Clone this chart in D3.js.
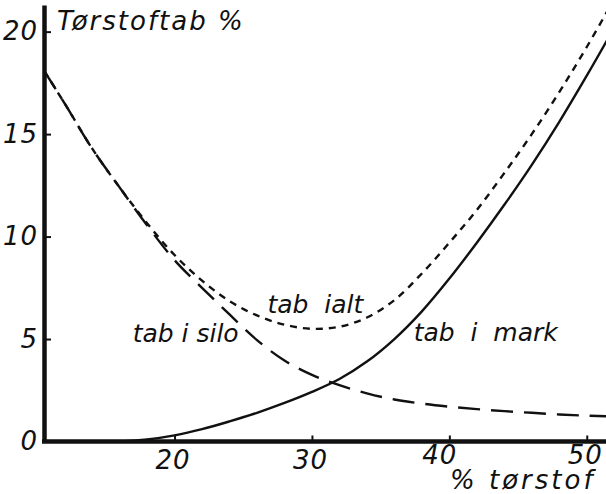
<!DOCTYPE html>
<html>
<head>
<meta charset="utf-8">
<script src="https://cdn.jsdelivr.net/npm/d3@7"></script>
<style>
  html, body { margin: 0; padding: 0; background: #fff; }
  svg { display: block; }
  text { font-family: "DejaVu Sans", sans-serif; font-style: oblique; fill: #111; }
</style>
</head>
<body>
<svg id="chart" width="606" height="494"></svg>
<script>
// Dry matter content (% tørstof) at which each loss was read
const torstof = [10.5, 12, 14, 16, 18, 20, 22, 24, 26, 28, 30, 32, 34, 36, 38, 40, 42, 44, 46, 48, 50, 52];

// Loss in the silo (long dashes)
const tabSilo = [18.1, 16.5, 14.3, 12.4, 10.55, 8.85, 7.5, 6.2, 4.95, 3.95, 3.25, 2.75, 2.35, 2.05, 1.85, 1.7, 1.58, 1.48, 1.4, 1.32, 1.26, 1.22];

// Loss in the field (solid line)
const tabMark = [0, 0, 0, 0, 0.1, 0.3, 0.6, 0.98, 1.4, 1.88, 2.42, 3.05, 3.9, 5.0, 6.35, 7.95, 9.7, 11.55, 13.5, 15.6, 17.85, 20.2];

// Total loss (short dashes)
const tabIalt = [18.1, 16.5, 14.3, 12.4, 10.65, 9.1, 7.85, 6.85, 6.15, 5.7, 5.5, 5.6, 6.05, 6.9, 8.2, 9.7, 11.3, 13.1, 15.0, 17.05, 19.25, 21.6];

const xTicks = [20, 30, 40, 50];
const yTicks = [0, 5, 10, 15, 20];

const yTitle = "Tørstoftab %";
const xTitle = "% tørstof";
const seriesNames = ["tab i silo", "tab  ialt", "tab  i  mark"];

const svg = d3.select("#chart");
const W = 606, H = 494;

const x = d3.scaleLinear().domain([10.5, 51.4]).range([44, 606]);
const y = d3.scaleLinear().domain([0, 21.3]).range([441.5, 5]);

svg.append("rect").attr("width", W).attr("height", H).attr("fill", "#fff");

svg.append("defs").append("clipPath").attr("id", "plot")
  .append("rect").attr("x", 44).attr("y", 0).attr("width", W - 44).attr("height", 442);

const line = vals => d3.line()
  .x((d, i) => x(torstof[i]))
  .y(d => y(d))
  .curve(d3.curveCatmullRom.alpha(0.5))(vals);

const curves = svg.append("g").attr("clip-path", "url(#plot)")
  .attr("fill", "none").attr("stroke", "#111").attr("stroke-width", 2.4);

curves.append("path").attr("d", line(tabSilo)).attr("stroke-dasharray", "22 11");
curves.append("path").attr("d", line(tabIalt)).attr("stroke-dasharray", "7 6");
curves.append("path").attr("d", line(tabMark));

// Axes: heavy axis lines, short inward ticks
const fontSize = 26;

const gx = svg.append("g").attr("transform", `translate(0,${y(0)})`)
  .call(d3.axisBottom(x).tickValues(xTicks).tickSizeInner(-6).tickSizeOuter(0).tickPadding(9));
gx.select(".domain").attr("stroke", "#111").attr("stroke-width", 4.5)
  .attr("d", `M${x.range()[0] - 2},0H${x.range()[1]}`);
gx.selectAll(".tick line").attr("stroke", "#111").attr("stroke-width", 2);
gx.selectAll(".tick text").attr("font-size", fontSize).attr("font-family", null)
  .style("letter-spacing", "1px")
  .attr("dx", d => d === 40 ? -10 : -2)
  .attr("dy", d => d >= 40 ? "0.5em" : "0.71em");

const gy = svg.append("g").attr("transform", `translate(${x.range()[0]},0)`)
  .call(d3.axisLeft(y).tickValues(yTicks).tickSizeInner(-7).tickSizeOuter(0).tickPadding(6));
gy.select(".domain").attr("stroke", "#111").attr("stroke-width", 4.5);
gy.selectAll(".tick line").attr("stroke", "#111").attr("stroke-width", 2);
gy.selectAll(".tick text").attr("font-size", fontSize).attr("font-family", null)
  .style("letter-spacing", "1px");

// Titles
svg.append("text").attr("x", 57).attr("y", 30)
  .attr("font-size", fontSize).style("letter-spacing", "2px").text(yTitle);

svg.append("text").attr("x", 450).attr("y", 489)
  .attr("font-size", fontSize).style("letter-spacing", "3px")
  .style("white-space", "pre").text(xTitle);

// Curve labels
const labelPos = [[16.95, 4.86], [26.76, 6.28], [37.4, 4.9]];
svg.append("g").selectAll("text").data(seriesNames).join("text")
  .attr("x", (d, i) => x(labelPos[i][0]))
  .attr("y", (d, i) => y(labelPos[i][1]))
  .attr("font-size", 25)
  .style("white-space", "pre")
  .text(d => d);
</script>
</body>
</html>
